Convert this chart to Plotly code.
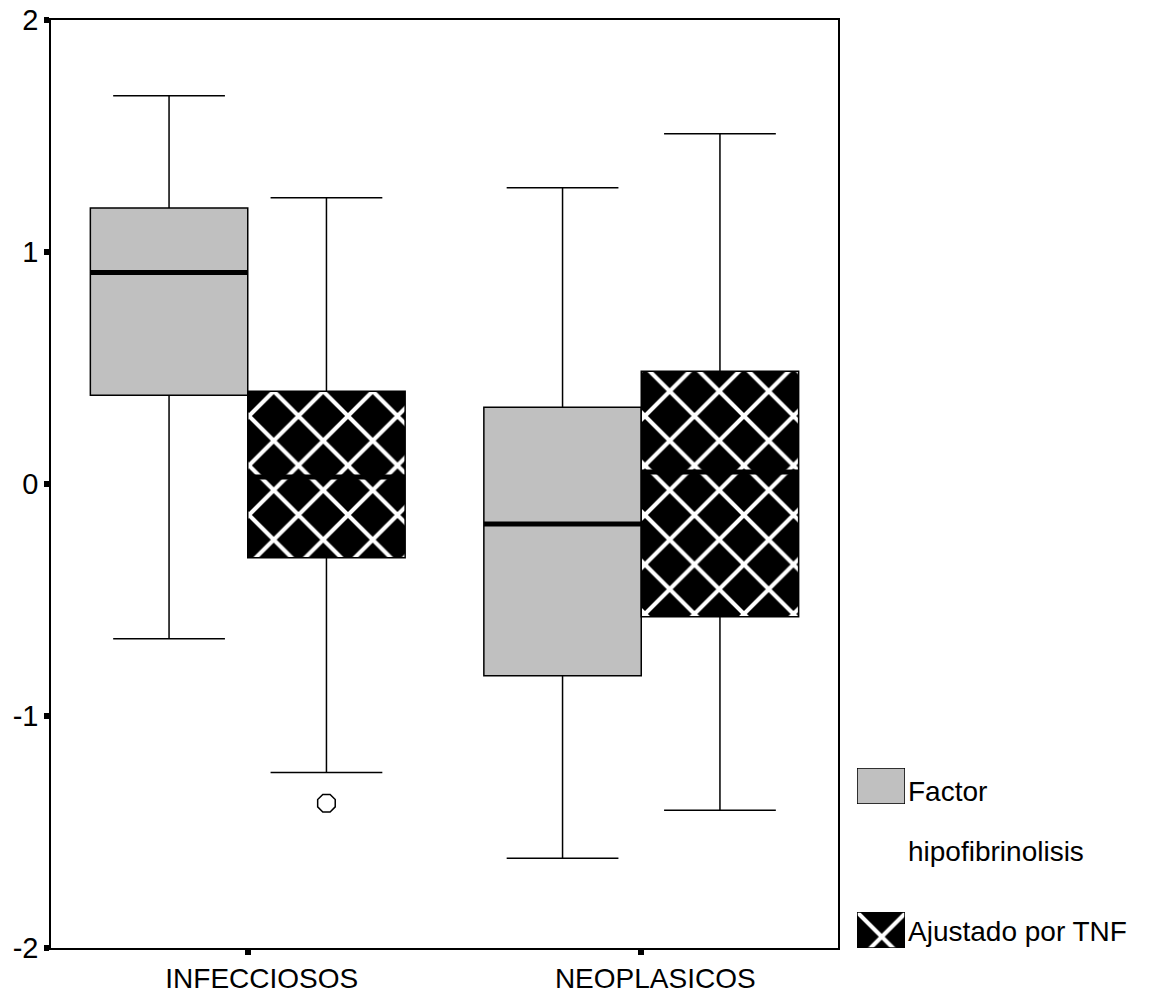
import plotly.graph_objects as go

categories = ["INFECCIOSOS", "NEOPLASICOS"]

factor_q1 = [0.383, -0.826]
factor_median = [0.912, -0.172]
factor_q3 = [1.19, 0.331]
factor_lower = [-0.667, -1.613]
factor_upper = [1.673, 1.277]

ajust_q1 = [-0.318, -0.572]
ajust_median = [0.03, 0.052]
ajust_q3 = [0.40, 0.486]
ajust_lower = [-1.243, -1.406]
ajust_upper = [1.234, 1.51]

ajust_outlier_cat = ["INFECCIOSOS"]
ajust_outlier_val = [-1.376]

series_names = ["Factor", "hipofibrinolisis", "Ajustado por TNF"]
y_ticks = [-2, -1, 0, 1, 2]

GRAY = "#c0c0c0"
FONT = "Liberation Sans, Arial, sans-serif"
W, H = 1149, 996
ML, MR, MT, MB = 51, 0, 20, 48
PW = W - ML - MR
PH = H - MT - MB
PLOT_RIGHT = 838

def px_x(p):
    return (p - ML) / PW

def px_y(p):
    return (H - MB - p) / PH

pattern = dict(shape="x", fgcolor="white", bgcolor="black", fgopacity=1,
               size=35, solidity=0.22, fillmode="replace")

fig = go.Figure()

# box fills (bars from q1 to q3)
fig.add_trace(go.Bar(
    x=categories, y=[b - a for a, b in zip(factor_q1, factor_q3)], base=factor_q1,
    marker=dict(color=GRAY, line=dict(width=0)), offsetgroup="a", alignmentgroup="g",
    showlegend=False, hoverinfo="skip"))
fig.add_trace(go.Bar(
    x=categories, y=[b - a for a, b in zip(ajust_q1, ajust_q3)], base=ajust_q1,
    marker=dict(color="black", pattern=pattern, line=dict(width=0)), offsetgroup="b", alignmentgroup="g",
    showlegend=False, hoverinfo="skip"))

# box outlines and whiskers
for grp, q1, med, q3, lo, hi in [("a", factor_q1, factor_median, factor_q3, factor_lower, factor_upper),
                                  ("b", ajust_q1, ajust_median, ajust_q3, ajust_lower, ajust_upper)]:
    fig.add_trace(go.Box(
        x=categories, q1=q1, median=med, q3=q3, lowerfence=lo, upperfence=hi,
        fillcolor="rgba(0,0,0,0)", line=dict(color="black", width=1.5),
        whiskerwidth=0.71, offsetgroup=grp, alignmentgroup="g", boxpoints=False,
        showlegend=False, hoverinfo="skip"))
    fig.add_trace(go.Box(
        x=categories, q1=med, median=med, q3=med, lowerfence=med, upperfence=med,
        fillcolor="rgba(0,0,0,0)", line=dict(color="black", width=5),
        whiskerwidth=0, offsetgroup=grp, alignmentgroup="g", boxpoints=False,
        showlegend=False, hoverinfo="skip"))

# outlier
fig.add_trace(go.Box(
    x=ajust_outlier_cat, y=ajust_outlier_val, boxpoints="all", jitter=0, pointpos=0,
    fillcolor="rgba(0,0,0,0)", line=dict(color="rgba(0,0,0,0)", width=0),
    marker=dict(symbol="octagon-open", size=19, color="black", line=dict(width=1.5, color="black")),
    offsetgroup="b", alignmentgroup="g", showlegend=False, hoverinfo="skip"))

# legend swatches
fig.add_trace(go.Bar(x=[0], y=[1], base=[0], width=[1], offset=-0.5,
                     marker=dict(color=GRAY, line=dict(color="black", width=1.5)),
                     xaxis="x2", yaxis="y2", showlegend=False, hoverinfo="skip"))
fig.add_trace(go.Bar(x=[0], y=[1], base=[0], width=[1], offset=-0.5,
                     marker=dict(color="black", pattern=pattern, line=dict(color="black", width=1.5)),
                     xaxis="x2", yaxis="y3", showlegend=False, hoverinfo="skip"))

fig.update_layout(
    width=W, height=H,
    margin=dict(l=ML, r=MR, t=MT, b=MB),
    paper_bgcolor="white", plot_bgcolor="white",
    barmode="group", bargap=0.2, bargroupgap=0,
    boxmode="group", boxgap=0.2, boxgroupgap=0,
    showlegend=False,
    xaxis=dict(domain=[0, px_x(PLOT_RIGHT)], type="category", range=[-0.5, 1.5],
               showline=True, mirror=True, linecolor="black", linewidth=1.5,
               ticks="outside", ticklen=5, tickwidth=6, tickcolor="black",
               ticklabelshift=14,
               showgrid=False, zeroline=False,
               tickfont=dict(family=FONT, size=28, color="black")),
    yaxis=dict(range=[-2, 2], tickvals=y_ticks, ticktext=[str(v) for v in y_ticks],
               showline=True, mirror=True, linecolor="black", linewidth=1.5,
               ticks="outside", ticklen=5, tickwidth=6, tickcolor="black",
               showgrid=False, zeroline=False,
               tickfont=dict(family=FONT, size=29, color="black")),
    xaxis2=dict(domain=[px_x(857), px_x(905)], range=[-0.5, 0.5], visible=False, anchor="y2"),
    yaxis2=dict(domain=[px_y(804), px_y(768)], range=[0, 1], visible=False, anchor="x2"),
    yaxis3=dict(domain=[px_y(948), px_y(912)], range=[0, 1], visible=False, anchor="x2"),
)

legend_font = dict(family=FONT, size=28, color="black")
for text, ypix in zip(series_names, [791, 851, 931]):
    fig.add_annotation(x=px_x(906), y=px_y(ypix), xref="paper", yref="paper",
                       text=text, showarrow=False, xanchor="left", yanchor="middle",
                       font=legend_font)

fig.write_html("out.html")
